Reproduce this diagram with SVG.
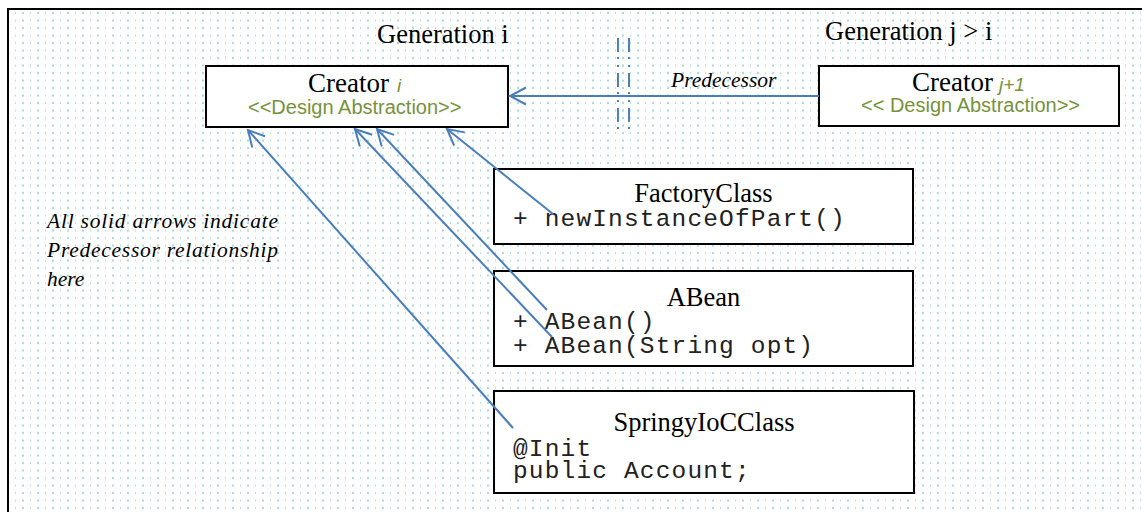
<svg xmlns="http://www.w3.org/2000/svg" width="1142" height="512" viewBox="0 0 1142 512">
<defs>
<pattern id="dots" patternUnits="userSpaceOnUse" x="0" y="0" width="15" height="7.5">
<rect x="0" y="4.5" width="1" height="2" fill="#b3dde8"/>
<rect x="7.2" y="4.5" width="1.6" height="2" fill="#8fcddc"/>
</pattern>
<marker id="open" viewBox="-18 -10 20 20" markerWidth="20" markerHeight="20" markerUnits="userSpaceOnUse" refX="0" refY="0" orient="auto">
<path d="M-16,-8.5 L0,0 L-16,8.5" fill="none" stroke="#4a7ebb" stroke-width="2"/>
</marker>
<style>
.box{fill:#fff;stroke:#000;stroke-width:2}
.serif{font-family:"Liberation Serif","Times New Roman",serif;fill:#000}
.sans{font-family:"Liberation Sans",Arial,sans-serif}
.mono{font-family:"Liberation Mono","Courier New",monospace;font-size:24.5px;letter-spacing:1.15px;fill:#222}
.green{fill:#76923c}
.conn{stroke:#4a7ebb;stroke-width:2;fill:none;marker-end:url(#open)}
.dash{stroke:#4f81bd;stroke-width:2;fill:none;stroke-dasharray:14 5 2 6 2 6}
.title{font-size:26.5px;text-anchor:middle}
.note{font-size:21.5px;font-style:italic}
</style>
</defs>
<rect x="0" y="0" width="1142" height="512" fill="#fff"/>
<rect x="9" y="10" width="1133" height="502" fill="url(#dots)"/>
<path d="M8,512 L8,9 L1142,9" fill="none" stroke="#000" stroke-width="2"/>

<g id="labels">
<text class="serif" x="377" y="43" font-size="26.5">Generation i</text>
<text class="serif" x="825" y="40" font-size="26.5">Generation j &gt; i</text>
<text class="serif note" x="47" y="228" textLength="231" lengthAdjust="spacing">All solid arrows indicate</text>
<text class="serif note" x="47" y="257" textLength="231" lengthAdjust="spacing">Predecessor relationship</text>
<text class="serif note" x="47" y="286">here</text>
</g>

<g id="separator">
<line class="dash" x1="618" y1="38" x2="618" y2="130"/>
<line class="dash" x1="629" y1="38" x2="629" y2="130"/>
</g>

<g id="creator-i">
<rect class="box" x="206" y="66" width="302" height="61"/>
<text class="serif" x="308" y="92" font-size="27">Creator</text>
<text class="sans green" x="397" y="92" font-size="19" font-style="italic">i</text>
<text class="sans green" x="248" y="114" font-size="20">&lt;&lt;Design Abstraction&gt;&gt;</text>
</g>

<g id="creator-j1">
<rect class="box" x="819" y="66" width="300" height="60"/>
<text class="serif" x="912" y="91" font-size="27">Creator</text>
<text class="sans green" x="999" y="91" font-size="19" font-style="italic">j+1</text>
<text class="sans green" x="861" y="112" font-size="20">&lt;&lt; Design Abstraction&gt;&gt;</text>
</g>

<g id="factoryclass">
<rect class="box" x="494" y="169" width="419" height="75"/>
<text class="serif title" x="703.5" y="202">FactoryClass</text>
<text class="mono" x="513" y="226" xml:space="preserve">+ newInstanceOfPart()</text>
</g>

<g id="abean">
<rect class="box" x="494" y="271" width="419" height="95"/>
<text class="serif title" x="703.5" y="306">ABean</text>
<text class="mono" x="513" y="329" xml:space="preserve">+ ABean()</text>
<text class="mono" x="513" y="353" xml:space="preserve">+ ABean(String opt)</text>
</g>

<g id="springyiocclass">
<rect class="box" x="494" y="391" width="420" height="102"/>
<text class="serif title" x="704" y="431">SpringyIoCClass</text>
<text class="mono" x="513" y="456">@Init</text>
<text class="mono" x="513" y="478">public Account;</text>
</g>

<g id="connectors">
<line class="conn" x1="819" y1="96" x2="510" y2="96"/>
<text class="serif" x="671" y="87" font-size="21.5" font-style="italic">Predecessor</text>
<line class="conn" x1="513" y1="428" x2="248" y2="130"/>
<line class="conn" x1="552" y1="337" x2="355" y2="129"/>
<line class="conn" x1="547" y1="310" x2="377" y2="129"/>
<line class="conn" x1="553" y1="214" x2="447" y2="129"/>
</g>
</svg>
